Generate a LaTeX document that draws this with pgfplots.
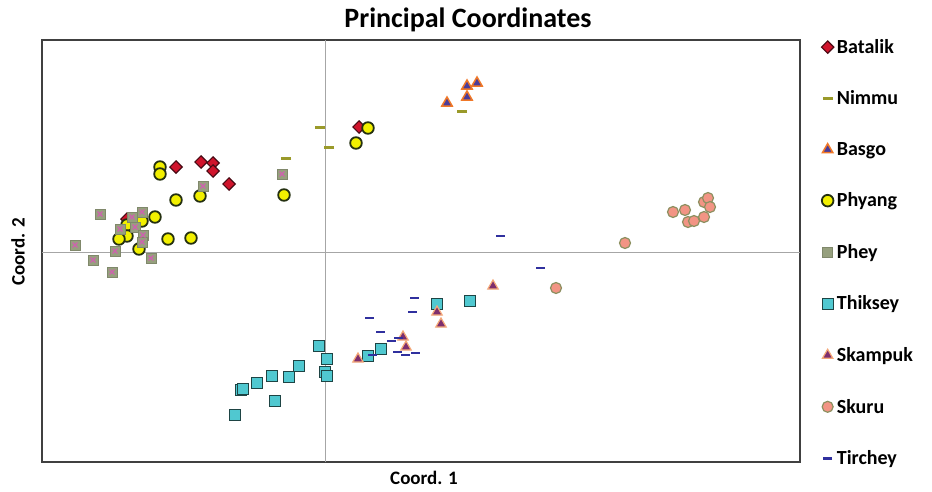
\documentclass[border=0pt]{standalone}
\usepackage{pgfplots}
\pgfplotsset{compat=1.18}
\usepackage{fontspec}
\setmainfont{Carlito}
\definecolor{batfill}{HTML}{D0142C}
\definecolor{batedge}{HTML}{4A0A14}
\definecolor{nimmu}{HTML}{9A9A2A}
\definecolor{basfill}{HTML}{4A3C9A}
\definecolor{basedge}{HTML}{F07828}
\definecolor{phyfill}{HTML}{F2F000}
\definecolor{phyedge}{HTML}{243010}
\definecolor{pheyfill}{HTML}{96A07E}
\definecolor{pheyx}{HTML}{D060B0}
\definecolor{thkfill}{HTML}{50C8D0}
\definecolor{thkedge}{HTML}{1E4444}
\definecolor{skafill}{HTML}{7E2E6E}
\definecolor{skaedge}{HTML}{F4A878}
\definecolor{skufill}{HTML}{F29484}
\definecolor{skuedge}{HTML}{8C9060}
\definecolor{tir}{HTML}{30309E}
\begin{document}
\begin{tikzpicture}[x=1pt,y=1pt]
\useasboundingbox (-42,-29) rectangle (890,462);
\begin{axis}[
  at={(0,0)}, anchor=south west,
  width=758pt, height=422pt, scale only axis,
  xmin=-283, xmax=475, ymin=-210, ymax=212,
  xtick=\empty, ytick=\empty,
  extra x ticks={0}, extra y ticks={0},
  extra x tick labels={}, extra y tick labels={},
  extra tick style={grid=major, major grid style={black!35, line width=1pt}, major tick length=0pt},
  axis line style={black!75, line width=1.3pt},
  title={Principal Coordinates},
  title style={font=\fontsize{28}{32}\selectfont\bfseries, at={(axis description cs:0.562,1.034)}, anchor=center},
  xlabel={Coord. 1},
  xlabel style={font=\fontsize{19}{22}\selectfont\bfseries, at={(axis description cs:0.504,-0.038)}, anchor=center},
  ylabel={Coord. 2},
  ylabel style={font=\fontsize{19}{22}\selectfont\bfseries, at={(axis description cs:-0.0317,0.498)}, anchor=center},
  legend style={at={(axis description cs:1.028,1.002)}, anchor=north west, draw=none, fill=none,
    font=\fontsize{20}{23}\selectfont\bfseries, row sep=36pt, inner sep=0pt,
    nodes={inner xsep=3pt, inner ysep=0pt}},
  legend cell align=left,
]
\addplot[only marks, mark=square*, mark size=4.4pt, mark options={rotate=45, fill=batfill, draw=batedge, line width=1.1pt}]
 coordinates {(-149,85) (-124,90) (-112,89) (-112,81) (-96,68) (-198,33) (34,125)};
\addlegendentry{Batalik}
\addplot[only marks, mark=-, mark size=5pt, mark options={draw=nimmu, line width=3pt}]
 coordinates {(-5,125) (4,105) (-39,94) (137,141)};
\addlegendentry{Nimmu}
\addplot[only marks, mark=triangle*, mark size=6pt, mark options={fill=basfill, draw=basedge, line width=1.5pt}]
 coordinates {(122,149) (142,166) (152,169) (142,155)};
\addlegendentry{Basgo}
\addplot[only marks, mark=*, mark size=5.8pt, mark options={fill=phyfill, draw=phyedge, line width=1.8pt}]
 coordinates {(-165,85) (-165,78) (-149,52) (-125,56) (-41,57) (-170,35) (-183,31) (-198,27) (-198,16) (-206,13) (-186,3) (-157,13) (-134,14) (43,124) (31,109)};
\addlegendentry{Phyang}
\addplot[only marks, mark=square*, mark size=5pt, mark options={fill=pheyfill, draw=pheyfill!85!black, line width=0.6pt}]
 coordinates {(-225,38) (-250,7) (-232,-8) (-210,1) (-213,-20) (-174,-6) (-183,40) (-193,35) (-205,23) (-190,25) (-182,17) (-183,10) (-122,66) (-43,78)};
\addlegendentry{Phey}
\addplot[only marks, mark=x, mark size=3.5pt, mark options={draw=pheyx, line width=1.4pt}, forget plot]
 coordinates {(-225,38) (-250,7) (-232,-8) (-210,1) (-213,-20) (-174,-6) (-183,40) (-193,35) (-205,23) (-190,25) (-182,17) (-183,10) (-122,66) (-43,78)};
\addplot[only marks, mark=square*, mark size=5.5pt, mark options={fill=thkfill, draw=thkedge, line width=1.3pt}]
 coordinates {(-90,-163) (-84,-138) (-82,-137) (-68,-131) (-53,-124) (-50,-149) (-36,-125) (-26,-114) (-6,-94) (2,-107) (0,-120) (2,-124) (43,-104) (56,-97) (112,-52) (145,-49)};
\addlegendentry{Thiksey}
\addplot[only marks, mark=triangle*, mark size=6pt, mark options={fill=skafill, draw=skaedge, line width=1.2pt}]
 coordinates {(168,-34) (112,-60) (116,-72) (78,-85) (81,-95) (33,-107)};
\addlegendentry{Skampuk}
\addplot[only marks, mark=*, mark size=5.5pt, mark options={fill=skufill, draw=skuedge, line width=1.2pt}]
 coordinates {(300,9) (231,-36) (348,40) (360,42) (363,30) (369,31) (379,35) (379,50) (383,54) (385,45)};
\addlegendentry{Skuru}
\addplot[only marks, mark=-, mark size=4.5pt, mark options={draw=tir, line width=2.8pt}]
 coordinates {(89,-46) (87,-60) (44,-66) (55,-80) (66,-89) (73,-86) (72,-100) (80,-103) (90,-101) (47,-103) (175,16) (215,-16)};
\addlegendentry{Tirchey}
\end{axis}
\end{tikzpicture}
\end{document}
